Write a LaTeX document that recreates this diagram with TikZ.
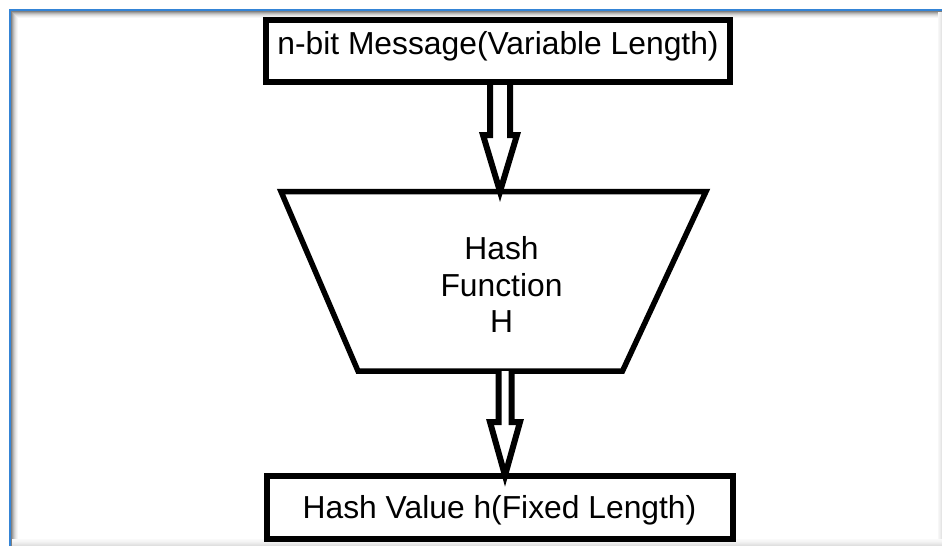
\documentclass[tikz,border=0pt]{standalone}
\usepackage{fontspec}
\setmainfont{Liberation Sans}
\definecolor{frameblue}{RGB}{52,132,214}
\begin{document}
\begin{tikzpicture}[x=1pt,y=-1pt,
  every node/.style={font=\fontsize{31.8}{36.5}\selectfont, inner sep=0pt},
  boxnode/.style={draw=black, line width=6pt, fill=white},
  outline/.style={draw=black, line width=5.5pt, line join=miter},
  blockarrow/.style={draw=black, line width=6pt, line join=miter, fill=white}]
  % canvas
  \fill[white] (0,0) rectangle (942,546);
  \useasboundingbox (0,0) rectangle (942,546);
  % window frame: blue edge with a soft inner shadow
  \foreach \i/\c in {0/50,1/38,2/28,3/19,4/12,5/7,6/3} {
    \draw[line width=1pt, black!\c] (11.5+\i,11+\i) -- (11.5+\i,546);
    \draw[line width=1pt, black!\c] (11+\i,11.5+\i) -- (942,11.5+\i);
  }
  \foreach \i/\c in {0/10,1/7,2/5,3/3} {
    \draw[line width=1pt, black!\c] (941.5-\i,12) -- (941.5-\i,546);
  }
  \foreach \i/\c in {0/12,1/10,2/8,3/6,4/4,5/3,6/2} {
    \draw[line width=1pt, black!\c] (12,545.5-\i) -- (942,545.5-\i);
  }
  \draw[line width=2pt, frameblue] (10,546) -- (10,10) -- (942,10);

  % input message
  \node[boxnode, minimum width=464pt, minimum height=62pt,
        text height=22pt, text depth=16pt] (msg) at (498,51)
        {n-bit Message(Variable Length)};

  % hash function block (trapezoid)
  \coordinate (tl) at (281,191.5);
  \coordinate (tr) at (706,191.5);
  \coordinate (br) at (622.5,371);
  \coordinate (bl) at (358,371);
  \draw[outline] (tl) -- (tr) -- (br) -- (bl) -- cycle;
  \node[align=center] (hf) at (501.5,284.5) {Hash\\Function\\H};

  % output digest
  \node[boxnode, minimum width=466pt, minimum height=63pt,
        text height=22pt, text depth=0pt] (out) at (499.5,507)
        {Hash Value h(Fixed Length)};

  % block arrow: message -> hash function
  \coordinate (a1) at (500,191.5);
  \draw[blockarrow] (msg.south -| 490,0) -- (490,135) -- (483,135) -- (a1)
        -- (517,135) -- (510,135) -- (msg.south -| 510,0);
  % block arrow: hash function -> digest
  \coordinate (a2) at (505,475.5);
  \draw[blockarrow] (bl -| 498.5,0) -- (498.5,422) -- (490,422) -- (a2)
        -- (520,422) -- (511.5,422) -- (bl -| 511.5,0);
\end{tikzpicture}
\end{document}
